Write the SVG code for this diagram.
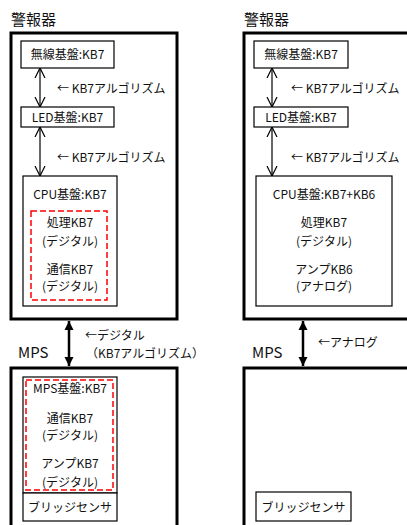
<svg xmlns="http://www.w3.org/2000/svg" width="407" height="525" viewBox="0 0 407 525">
  <defs>
    <marker id="open" viewBox="0 0 10 10" refX="10" refY="5" markerWidth="10" markerHeight="12" markerUnits="userSpaceOnUse" orient="auto-start-reverse">
      <path d="M0,0 L10,5 L0,10" fill="none" stroke="#000" stroke-width="1.2"/>
    </marker>
    <marker id="solid" viewBox="0 0 10 10" refX="10" refY="5" markerWidth="9" markerHeight="11" markerUnits="userSpaceOnUse" orient="auto-start-reverse">
      <path d="M0,0 L10,5 L0,10 Z" fill="#000"/>
    </marker>
  </defs>
  <style>
    text { font-family: "Noto Sans CJK JP", "Liberation Sans", sans-serif; fill: #111; font-size: 12px; }
    .title { font-size: 15px; }
    .mps { font-size: 15px; }
    .c { text-anchor: middle; }
    .outer { fill: none; stroke: #000; stroke-width: 3; }
    .box { fill: #fff; stroke: #000; stroke-width: 1.2; }
    .dash { fill: none; stroke: #f00; stroke-width: 1.5; stroke-dasharray: 6 3; }
    .thin { stroke: #000; stroke-width: 1.2; fill: none; }
    .thick { stroke: #000; stroke-width: 2.5; fill: none; }
  </style>

  <!-- left column: alarm unit -->
  <g id="alarm-left">
    <text class="title" x="11" y="25">警報器</text>
    <rect class="outer" x="11" y="33" width="166" height="286"/>
  </g>
  <g id="radio-left">
    <rect class="box" x="21" y="41" width="93" height="27"/>
    <text class="c" x="67.5" y="59">無線基盤:KB7</text>
  </g>
  <g id="led-left">
    <rect class="box" x="21" y="107" width="93" height="20"/>
    <text class="c" x="67.5" y="122">LED基盤:KB7</text>
  </g>
  <g id="cpu-left">
    <rect class="box" x="23" y="176" width="94" height="130"/>
    <text class="c" x="70" y="199">CPU基盤:KB7</text>
    <rect class="dash" x="31" y="211" width="76" height="89"/>
    <text class="c" x="70" y="227">処理KB7</text>
    <text class="c" x="70" y="246">(デジタル)</text>
    <text class="c" x="70" y="274">通信KB7</text>
    <text class="c" x="70" y="291">(デジタル)</text>
  </g>

  <!-- left column: MPS unit -->
  <g id="mps-left">
    <text class="mps" x="18" y="358">MPS</text>
    <rect class="outer" x="11" y="368" width="166" height="170"/>
  </g>
  <g id="mps-board-left">
    <rect class="box" x="23" y="377" width="94" height="116"/>
    <rect class="dash" x="26" y="380" width="87" height="110"/>
    <text class="c" x="70" y="393">MPS基盤:KB7</text>
    <text class="c" x="70" y="423">通信KB7</text>
    <text class="c" x="70" y="440">(デジタル)</text>
    <text class="c" x="70" y="468">アンプKB7</text>
    <text class="c" x="70" y="487">(デジタル)</text>
  </g>
  <g id="bridge-left">
    <rect class="box" x="23" y="493" width="94" height="28"/>
    <text class="c" x="70" y="512">ブリッジセンサ</text>
  </g>

  <!-- right column: alarm unit -->
  <g id="alarm-right">
    <text class="title" x="244" y="25">警報器</text>
    <rect class="outer" x="244" y="33" width="180" height="286"/>
  </g>
  <g id="radio-right">
    <rect class="box" x="254" y="41" width="94" height="27"/>
    <text class="c" x="301" y="59">無線基盤:KB7</text>
  </g>
  <g id="led-right">
    <rect class="box" x="254" y="107" width="94" height="20"/>
    <text class="c" x="301" y="122">LED基盤:KB7</text>
  </g>
  <g id="cpu-right">
    <rect class="box" x="256" y="176" width="136" height="130"/>
    <text class="c" x="324" y="199">CPU基盤:KB7+KB6</text>
    <text class="c" x="324" y="227">処理KB7</text>
    <text class="c" x="324" y="246">(デジタル)</text>
    <text class="c" x="324" y="274">アンプKB6</text>
    <text class="c" x="324" y="291">(アナログ)</text>
  </g>

  <!-- right column: MPS unit -->
  <g id="mps-right">
    <text class="mps" x="252" y="358">MPS</text>
    <rect class="outer" x="244" y="368" width="180" height="170"/>
  </g>
  <g id="bridge-right">
    <rect class="box" x="256" y="492" width="95" height="29"/>
    <text class="c" x="303.5" y="512">ブリッジセンサ</text>
  </g>

  <!-- connectors and their labels -->
  <g id="connectors">
    <line class="thin" x1="40" y1="68" x2="40" y2="107" marker-start="url(#open)" marker-end="url(#open)"/>
    <line class="thin" x1="40" y1="127" x2="40" y2="176" marker-start="url(#open)" marker-end="url(#open)"/>
    <line class="thick" x1="69" y1="321" x2="69" y2="366" marker-start="url(#solid)" marker-end="url(#solid)"/>
    <line class="thin" x1="272" y1="68" x2="272" y2="107" marker-start="url(#open)" marker-end="url(#open)"/>
    <line class="thin" x1="272" y1="127" x2="272" y2="176" marker-start="url(#open)" marker-end="url(#open)"/>
    <line class="thick" x1="303" y1="321" x2="303" y2="366" marker-start="url(#solid)" marker-end="url(#solid)"/>

    <text x="57" y="93">← KB7アルゴリズム</text>
    <text x="57" y="162">← KB7アルゴリズム</text>
    <text x="85" y="340">←デジタル</text>
    <text x="86" y="358">（KB7アルゴリズム）</text>
    <text x="291" y="93">← KB7アルゴリズム</text>
    <text x="291" y="162">← KB7アルゴリズム</text>
    <text x="318" y="347">←アナログ</text>
  </g>
</svg>
